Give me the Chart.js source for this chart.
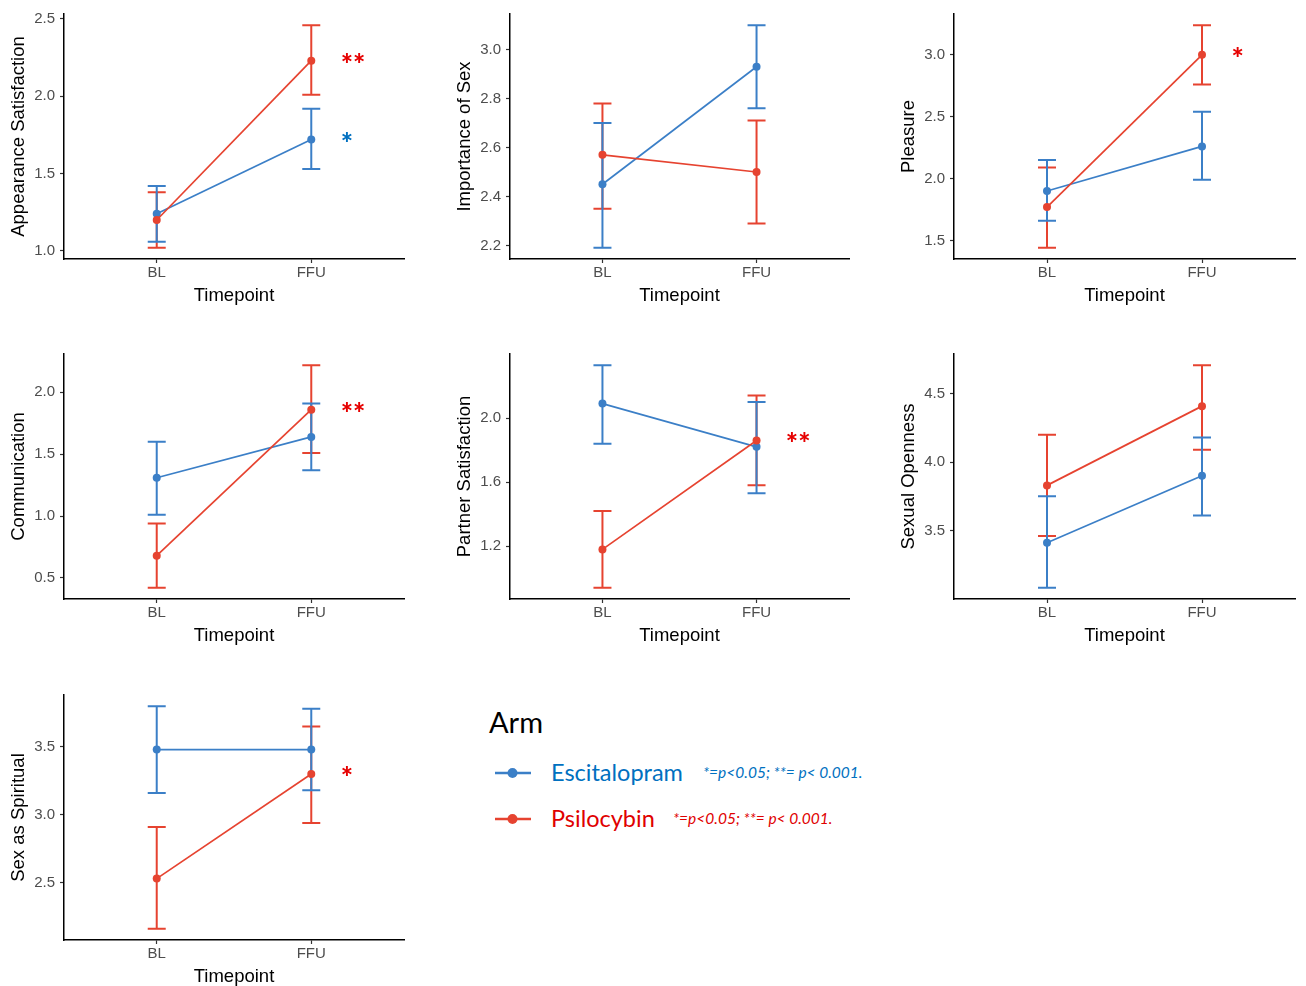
<!DOCTYPE html>
<html>
<head>
<meta charset="utf-8">
<title>Sexual functioning by arm</title>
<script src="https://cdn.jsdelivr.net/npm/chart.js@4.4.1/dist/chart.umd.min.js"></script>
<style>
  body { margin: 0; background: #fff; width: 1306px; height: 986px; position: relative; overflow: hidden; }
  canvas.panel { position: absolute; }
  .lg { position: absolute; font-family: Lato, "Open Sans", sans-serif; white-space: nowrap; }
  .lg-title { font-size: 29px; color: #000; }
  .lg-label { font-size: 23.5px; }
  .lg-note { font-size: 15.5px; font-style: italic; }
  .lg-key { position: absolute; }
</style>
</head>
<body>

<div class="lg lg-title" style="left:489px; top:704px; line-height:36px;">Arm</div>

<svg class="lg-key" style="left:494px; top:765px;" width="40" height="16">
  <line x1="1" y1="8" x2="37" y2="8" stroke="#3B7FC7" stroke-width="2.5"/>
  <circle cx="18.5" cy="8" r="5" fill="#3B7FC7"/>
</svg>
<div class="lg lg-label" style="left:551px; top:757px; line-height:30px; color:#0070C0;">Escitalopram</div>
<div class="lg lg-note" style="left:703px; top:762px; line-height:20px; color:#0070C0;">*=p&lt;0.05; **= p&lt; 0.001.</div>

<svg class="lg-key" style="left:494px; top:811px;" width="40" height="16">
  <line x1="1" y1="8" x2="37" y2="8" stroke="#E64330" stroke-width="2.5"/>
  <circle cx="18.5" cy="8" r="5" fill="#E64330"/>
</svg>
<div class="lg lg-label" style="left:551px; top:803px; line-height:30px; color:#E00000;">Psilocybin</div>
<div class="lg lg-note" style="left:673px; top:808px; line-height:20px; color:#E00000;">*=p&lt;0.05; **= p&lt; 0.001.</div>

<script>
// ---- data ----
const timepoints = ['BL', 'FFU'];
const panelTitles = ['Appearance Satisfaction', 'Importance of Sex', 'Pleasure',
                     'Communication', 'Partner Satisfaction', 'Sexual Openness',
                     'Sex as Spiritual'];

// Escitalopram: mean and error bar ends, [BL, FFU] per panel
const escMean = [[1.24, 1.72], [2.45, 2.93], [1.90, 2.26], [1.31, 1.64], [2.09, 1.82], [3.41, 3.90], [3.48, 3.48]];
const escLo   = [[1.06, 1.53], [2.19, 2.76], [1.66, 1.99], [1.01, 1.37], [1.84, 1.53], [3.08, 3.61], [3.16, 3.18]];
const escHi   = [[1.42, 1.92], [2.70, 3.10], [2.15, 2.54], [1.60, 1.91], [2.33, 2.10], [3.75, 4.18], [3.80, 3.78]];

// Psilocybin
const psiMean = [[1.20, 2.23], [2.57, 2.50], [1.77, 3.00], [0.68, 1.86], [1.18, 1.86], [3.83, 4.41], [2.53, 3.30]];
const psiLo   = [[1.02, 2.01], [2.35, 2.29], [1.44, 2.76], [0.42, 1.51], [0.94, 1.58], [3.46, 4.09], [2.16, 2.94]];
const psiHi   = [[1.38, 2.46], [2.78, 2.71], [2.09, 3.24], [0.94, 2.22], [1.42, 2.14], [4.20, 4.71], [2.91, 3.65]];

// y tick labels per panel
const yTicks = [[1.0, 1.5, 2.0, 2.5], [2.2, 2.4, 2.6, 2.8, 3.0], [1.5, 2.0, 2.5, 3.0],
                [0.5, 1.0, 1.5, 2.0], [1.2, 1.6, 2.0], [3.5, 4.0, 4.5], [2.5, 3.0, 3.5]];

// significance marks at FFU
const escStars = ['*', '', '', '', '', '', ''];
const psiStars = ['**', '', '*', '**', '**', '', '*'];

// ---- layout / style ----
const ESC_COLOR = '#3B7FC7';
const PSI_COLOR = '#E64330';
const ESC_STAR = '#0070C0';
const PSI_STAR = '#E60000';
const colLeft = [0, 446, 890];
const colWidth = [410, 409, 411];
const rowTop = [0, 340, 681];
const FONT = '"Liberation Sans", Arial, Helvetica, sans-serif';

const errorBars = {
  id: 'errorBars',
  beforeDatasetsDraw(chart) {
    const { ctx, scales: { x, y } } = chart;
    chart.data.datasets.slice().reverse().forEach(ds => {
      ctx.save();
      ctx.strokeStyle = ds.borderColor;
      ctx.lineWidth = 2;
      ds.data.forEach((pt, i) => {
        const px = x.getPixelForValue(pt.x);
        const top = y.getPixelForValue(ds.hi[i]);
        const bot = y.getPixelForValue(ds.lo[i]);
        ctx.beginPath();
        ctx.moveTo(px, top); ctx.lineTo(px, bot);
        ctx.moveTo(px - 9, top); ctx.lineTo(px + 9, top);
        ctx.moveTo(px - 9, bot); ctx.lineTo(px + 9, bot);
        ctx.stroke();
      });
      ctx.restore();
    });
  }
};

const sigStars = {
  id: 'sigStars',
  afterDatasetsDraw(chart, args, opts) {
    const { ctx, scales: { x, y } } = chart;
    ctx.save();
    ctx.font = '900 29px Lato, sans-serif';
    ctx.textAlign = 'left';
    ctx.textBaseline = 'alphabetic';
    opts.marks.forEach(m => {
      if (!m.text) return;
      ctx.fillStyle = m.color;
      ctx.fillText(m.text, x.getPixelForValue(2.19), y.getPixelForValue(m.y) + 13);
    });
    ctx.restore();
  }
};

function makePanel(i) {
  const col = i % 3, row = Math.floor(i / 3);
  const canvas = document.createElement('canvas');
  canvas.className = 'panel';
  canvas.width = colWidth[col];
  canvas.height = 309;
  canvas.style.left = colLeft[col] + 'px';
  canvas.style.top = rowTop[row] + 'px';
  document.body.appendChild(canvas);

  const lo = Math.min(...escLo[i], ...psiLo[i]);
  const hi = Math.max(...escHi[i], ...psiHi[i]);
  const pad = (hi - lo) * 0.05;

  const series = (mean, l, h, color, order) => ({
    data: mean.map((v, k) => ({ x: k + 1, y: v })),
    lo: l, hi: h,
    order: order,
    borderColor: color,
    backgroundColor: color,
    borderWidth: 1.7,
    pointRadius: 4,
    pointBorderWidth: 0,
    pointBackgroundColor: color,
    tension: 0
  });

  new Chart(canvas, {
    type: 'line',
    data: {
      datasets: [
        series(escMean[i], escLo[i], escHi[i], ESC_COLOR, 2),
        series(psiMean[i], psiLo[i], psiHi[i], PSI_COLOR, 1)
      ]
    },
    options: {
      responsive: false,
      animation: false,
      layout: { padding: { top: 13, right: 6, left: 0, bottom: 0 } },
      plugins: {
        legend: { display: false },
        tooltip: { enabled: false },
        sigStars: {
          marks: [
            { text: escStars[i], y: escMean[i][1], color: ESC_STAR },
            { text: psiStars[i], y: psiMean[i][1], color: PSI_STAR }
          ]
        }
      },
      scales: {
        x: {
          type: 'linear', min: 0.4, max: 2.6,
          afterBuildTicks: s => { s.ticks = [{ value: 1 }, { value: 2 }]; },
          afterFit: s => { s.height = 50; },
          border: { display: true, color: '#000', width: 1.5 },
          grid: { drawOnChartArea: false, drawTicks: true, tickLength: 4, tickColor: '#333', tickWidth: 1.2 },
          ticks: { color: '#4d4d4d', font: { family: FONT, size: 15 }, padding: 1,
                   callback: v => timepoints[Math.round(v) - 1] },
          title: { display: true, text: 'Timepoint', color: '#000',
                   font: { family: FONT, size: 18.5 }, padding: { top: 0, bottom: 2 } }
        },
        y: {
          min: lo - pad, max: hi + pad,
          afterBuildTicks: s => { s.ticks = yTicks[i].map(v => ({ value: v })); },
          afterFit: s => { s.width = 64; },
          border: { display: true, color: '#000', width: 1.5 },
          grid: { drawOnChartArea: false, drawTicks: true, tickLength: 4, tickColor: '#333', tickWidth: 1.2 },
          ticks: { color: '#4d4d4d', font: { family: FONT, size: 15 }, padding: 5,
                   callback: v => Number(v).toFixed(1) },
          title: { display: true, text: panelTitles[i], color: '#000',
                   font: { family: FONT, size: 18.5 }, padding: { top: 8, bottom: 0 } }
        }
      }
    },
    plugins: [errorBars, sigStars]
  });
}

for (let i = 0; i < panelTitles.length; i++) makePanel(i);
</script>
</body>
</html>
